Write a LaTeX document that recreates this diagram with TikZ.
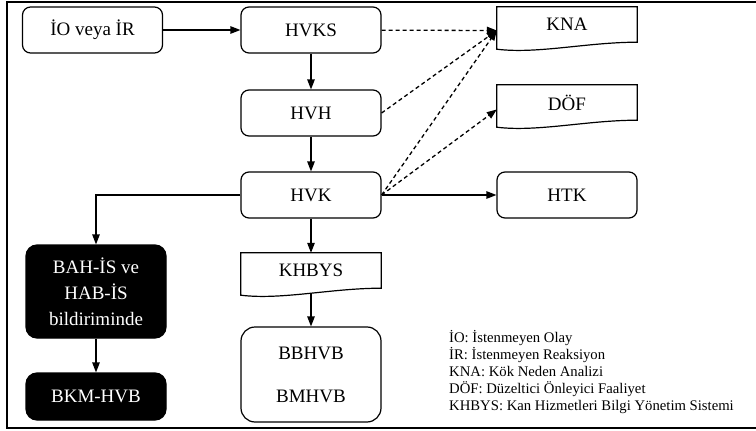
\documentclass[tikz,border=0pt]{standalone}
\usepackage{fontspec}
\setmainfont{Liberation Serif}
\usetikzlibrary{arrows.meta,calc}
\newcommand{\docoutline}[1]{%
  \draw[line width=1.2pt] (#1.north west) -- (#1.north east) -- (#1.south east)
    .. controls ($(#1.south east)+(-50pt,0pt)$) and ($(#1.south east)+(-100pt,-12pt)$) .. ($(#1.south west)+(0pt,-7pt)$) -- cycle;}

\begin{document}
\begin{tikzpicture}[x=1pt,y=-1pt,
    >={Triangle[length=10pt,width=7.5pt]},
    every node/.style={font=\fontsize{19}{26}\selectfont},
    box/.style={draw,line width=1.2pt,rounded corners=8pt,minimum width=140pt,minimum height=46pt,inner sep=0pt},
    blackbox/.style={box,fill=black,text=white,rounded corners=11pt,align=center},
    docbox/.style={minimum width=140pt,minimum height=35pt,inner sep=0pt},
    arr/.style={->,line width=1.2pt},
    dasharr/.style={->,line width=1.3pt,dash pattern=on 4pt off 3pt}]
  \useasboundingbox (0,0) rectangle (756,431);
  \draw[line width=2.4pt] (760,2) -- (7,2) -- (7,428) -- (760,428);

  \node[box] (io) at (92.5,30) {İO veya İR};
  \node[box] (hvks) at (311,30) {HVKS};
  \node[box] (hvh) at (311,113) {HVH};
  \node[box] (hvk) at (311,195) {HVK};
  \node[docbox] (kna) at (567,24.5) {KNA};
  \node[docbox] (dof) at (567,102.5) {DÖF};
  \node[box] (htk) at (567,195) {HTK};
  \node[docbox] (khbys) at (311,270.5) {KHBYS};
  \node[blackbox,minimum height=93pt] (bah) at (96,291.5) {BAH-İS ve\\HAB-İS\\bildiriminde};
  \node[blackbox,minimum height=47pt] (bkm) at (96,396.5) {BKM-HVB};
  \node[box,rounded corners=14pt,minimum height=95pt,align=center] (bbhvb) at (311,374.5) {BBHVB\\[17pt]BMHVB};
  \node[anchor=north west,align=left,inner sep=0pt,font=\fontsize{14.7}{17}\selectfont] (legend) at (449,330)
    {İO: İstenmeyen Olay\\İR: İstenmeyen Reaksiyon\\KNA: Kök Neden Analizi\\DÖF: Düzeltici Önleyici Faaliyet\\KHBYS: Kan Hizmetleri Bilgi Yönetim Sistemi};

  \docoutline{kna}
  \docoutline{dof}
  \docoutline{khbys}

  \draw[arr] (io) -- (hvks);
  \draw[arr] (hvks) -- (hvh);
  \draw[arr] (hvh) -- (hvk);
  \draw[arr] (hvk) -- (khbys);
  \draw[arr] ([yshift=-5pt]khbys.south) -- (bbhvb);
  \draw[arr] (hvk) -- (htk);
  \draw[arr] (hvk.west) -| (bah.north);
  \draw[arr] (bah) -- (bkm);

  \coordinate (knain) at ([yshift=-6pt]kna.west);
  \draw[dasharr] (hvks) -- (knain);
  \draw[dasharr] (hvh.east) -- (knain);
  \draw[dasharr] (hvk.east) -- (knain);
  \draw[dasharr] (hvk.east) -- ([yshift=-7pt]dof.west);
\end{tikzpicture}
\end{document}
